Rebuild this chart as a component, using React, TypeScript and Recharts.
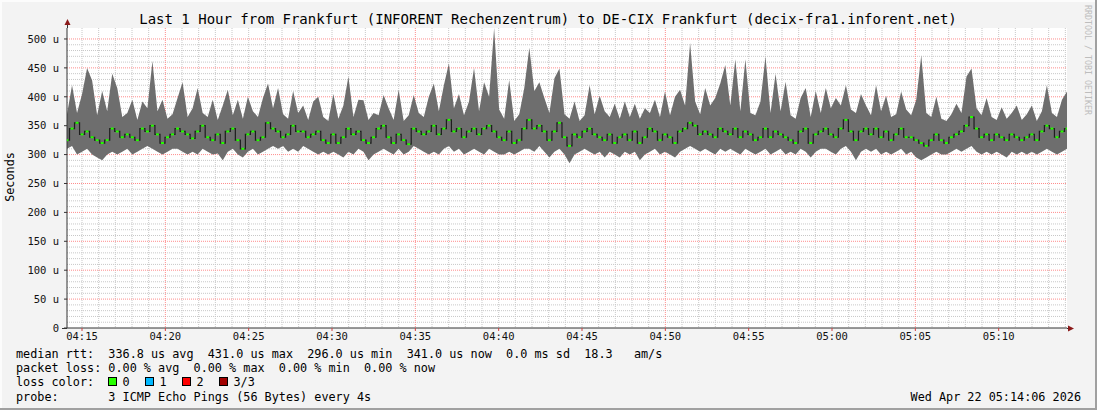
import React from 'react';
import { ComposedChart, Area, Line, Scatter, XAxis, YAxis, CartesianGrid } from 'recharts';

// smoke envelope per sample (microseconds), 200 samples over the last hour
const hiValues = [
  370, 420, 372, 405, 450, 428, 368, 410, 375, 440, 415, 365, 372, 395, 360, 392, 380, 462, 375, 395, 362, 370, 398, 425, 365,
  380, 415, 372, 365, 395, 360, 385, 412, 368, 395, 362, 400, 375, 365, 398, 423, 380, 415, 370, 362, 410, 372, 385, 360, 392, 400, 365, 358, 405,
  362, 385, 435, 365, 395, 394, 360, 372, 368, 403, 380, 360, 412, 358, 368, 403, 372, 365, 400, 423, 375, 420, 458, 380, 405, 368, 392, 450,
  375, 425, 400, 519, 378, 362, 429, 358, 370, 415, 485, 410, 425, 398, 372, 432, 449, 370, 362, 392, 358, 368, 420, 370, 402, 375, 365, 388, 362,
  392, 365, 388, 362, 380, 372, 395, 365, 409, 368, 400, 412, 385, 493, 392, 370, 415, 385, 398, 423, 455, 385, 465, 375, 465, 372, 368, 392, 470,
  372, 440, 375, 426, 368, 362, 398, 415, 365, 410, 372, 415, 380, 398, 385, 420, 378, 372, 405, 385, 368, 420, 375, 402, 365, 370, 409, 378,
  368, 395, 472, 372, 365, 400, 362, 358, 370, 388, 372, 435, 449, 380, 368, 398, 365, 360, 382, 362, 372, 385, 360, 370, 385, 358, 375, 420, 372, 365, 395, 409,
];

const loValues = [
  310, 315, 300, 305, 310, 300, 295, 290, 300, 305, 300, 305, 310, 300, 305, 310, 315, 310, 305, 300, 305, 310, 310, 305, 300,
  305, 300, 310, 305, 300, 302, 290, 305, 310, 300, 295, 305, 310, 300, 305, 310, 315, 310, 315, 305, 310, 305, 315, 310, 305, 300, 305, 300, 305,
  300, 295, 305, 300, 310, 305, 290, 300, 305, 310, 305, 300, 310, 300, 305, 315, 310, 305, 300, 305, 300, 310, 315, 305, 310, 300, 305, 310,
  305, 300, 310, 305, 300, 300, 305, 300, 305, 310, 310, 305, 315, 305, 295, 305, 310, 300, 285, 300, 305, 310, 305, 300, 305, 295, 305, 300, 295,
  305, 300, 305, 290, 300, 305, 310, 300, 305, 300, 295, 305, 310, 315, 310, 305, 310, 305, 300, 310, 305, 310, 305, 300, 310, 305, 300, 305, 310,
  300, 305, 310, 300, 305, 300, 310, 305, 295, 305, 310, 310, 305, 300, 310, 315, 305, 290, 305, 310, 305, 310, 300, 305, 300, 305, 310, 300,
  305, 295, 290, 295, 300, 305, 300, 300, 305, 310, 305, 310, 315, 305, 300, 305, 300, 305, 300, 295, 305, 300, 305, 300, 305, 300, 305, 310, 305, 300, 305, 310,
];

const medValues = [
  325, 345, 355, 335, 340, 330, 325, 320, 325, 345, 340, 330, 335, 330, 325, 345, 340, 350, 335, 320, 330, 335, 345, 340, 335,
  328, 340, 350, 330, 325, 335, 320, 340, 345, 325, 310, 335, 340, 325, 330, 355, 345, 340, 330, 335, 350, 340, 340, 330, 335, 340, 325, 320, 335,
  320, 330, 345, 335, 340, 325, 320, 330, 345, 350, 330, 320, 335, 325, 318, 345, 340, 335, 340, 350, 335, 345, 360, 340, 345, 330, 340, 345,
  335, 345, 350, 340, 330, 325, 340, 320, 325, 345, 360, 345, 350, 340, 325, 340, 355, 330, 315, 335, 330, 340, 345, 335, 330, 325, 335, 320, 330,
  335, 325, 340, 320, 330, 345, 340, 325, 335, 330, 320, 340, 345, 355, 350, 335, 340, 335, 330, 345, 340, 335, 345, 330, 340, 335, 325, 330, 345,
  330, 340, 335, 330, 325, 320, 340, 345, 320, 335, 340, 345, 335, 330, 345, 360, 340, 325, 340, 345, 335, 345, 330, 340, 325, 335, 345, 330,
  330, 325, 320, 315, 325, 335, 325, 320, 330, 335, 340, 350, 365, 345, 330, 335, 325, 335, 330, 325, 335, 330, 325, 330, 335, 325, 340, 350, 345, 330, 340, 345,
];

// seconds since 04:14:06
const SPAN = 3600;
const timeTicks = [54, 354, 654, 954, 1254, 1554, 1854, 2154, 2454, 2754, 3054, 3354];
const timeLabels = ['04:15', '04:20', '04:25', '04:30', '04:35', '04:40', '04:45', '04:50', '04:55', '05:00', '05:05', '05:10'];
const majorTimes = [354, 1254, 2154, 3054];
const minuteTimes = Array.from({ length: 60 }, (_, k) => 54 + 60 * k).filter(t => !majorTimes.includes(t));
const valueTicks = [0, 50, 100, 150, 200, 250, 300, 350, 400, 450, 500];
const minorValues = Array.from({ length: 51 }, (_, k) => k * 10).filter(v => v % 50 !== 0);

const data = hiValues.map((hi, i) => ({
  t: (i * SPAN) / (hiValues.length - 1),
  range: [loValues[i], hi],
  med: medValues[i],
}));

const MONO = "'DejaVu Sans Mono', monospace";

const MedianTick = (props: any) => {
  const { cx, cy } = props;
  if (cx == null || cy == null) return null;
  return <rect x={cx - 1.5} y={cy - 1} width={3} height={2} fill="#26ff00" />;
};

const lossColors = [
  { x: 108, label: '0', color: '#26ff00' },
  { x: 145, label: '1', color: '#00b8ff' },
  { x: 182, label: '2', color: '#ff0000' },
  { x: 219, label: '3/3', color: '#a10000' },
];

const App: React.FC = () => {
  return (
    <div style={{ position: 'relative', width: 1097, height: 410, background: '#f3f3f3', fontFamily: MONO }}>
      <style>{'body{margin:0}'}</style>
      <div style={{ position: 'absolute', left: 0, top: 0 }}>
        <ComposedChart width={1097} height={410} data={data} margin={{ top: 28, right: 30, left: 7, bottom: 62 }}>
          <CartesianGrid
            fill="#ffffff"
            stroke="#c8c8c8"
            strokeDasharray="1 1"
            horizontalValues={minorValues}
            verticalValues={minuteTimes}
          />
          <CartesianGrid
            fill="none"
            stroke="#ff8c8c"
            strokeDasharray="1 1"
            horizontalValues={valueTicks.filter(v => v > 0)}
            verticalValues={majorTimes}
          />
          <XAxis
            dataKey="t"
            type="number"
            domain={[0, SPAN]}
            ticks={timeTicks}
            interval={0}
            height={20}
            tickFormatter={(v) => timeLabels[timeTicks.indexOf(v)] ?? ''}
            tick={{ fontSize: 10.5, fontFamily: MONO, fill: '#111' }}
            tickSize={3}
            tickMargin={2}
            tickLine={{ stroke: '#d04040' }}
            axisLine={{ stroke: '#333' }}
            allowDataOverflow
          />
          <YAxis
            type="number"
            domain={[0, 519]}
            ticks={valueTicks}
            interval={0}
            width={60}
            tickFormatter={(v) => (v === 0 ? '0' : `${v} u`)}
            tick={{ fontSize: 10.5, fontFamily: MONO, fill: '#111' }}
            tickSize={3}
            tickMargin={5}
            tickLine={{ stroke: '#333' }}
            axisLine={{ stroke: '#333' }}
            allowDataOverflow
          />
          <Area
            dataKey="range"
            type="linear"
            fill="#6e6e6e"
            fillOpacity={1}
            stroke="none"
            isAnimationActive={false}
          />
          <Line
            dataKey="med"
            type="step"
            stroke="#1e1e1e"
            strokeWidth={1.2}
            dot={false}
            isAnimationActive={false}
          />
          <Scatter dataKey="med" shape={MedianTick} isAnimationActive={false} />
        </ComposedChart>
      </div>

      <svg
        width={1097}
        height={410}
        style={{ position: 'absolute', left: 0, top: 0, pointerEvents: 'none' }}
        fontFamily={MONO}
      >
        {/* frame */}
        <line x1={0} y1={1} x2={1097} y2={1} stroke="#fcfcfc" strokeWidth={2} />
        <line x1={1} y1={0} x2={1} y2={410} stroke="#fcfcfc" strokeWidth={2} />
        <line x1={0} y1={409} x2={1097} y2={409} stroke="#a0a0a0" strokeWidth={2} />
        <line x1={1096} y1={0} x2={1096} y2={410} stroke="#a0a0a0" strokeWidth={2} />

        {/* axis arrows */}
        <line x1={67.5} y1={22} x2={67.5} y2={28} stroke="#333" />
        <polygon points="64.5,25 70.5,25 67.5,19" fill="#8b1a1a" />
        <line x1={62} y1={328.5} x2={67} y2={328.5} stroke="#333" />
        <line x1={1067} y1={328.5} x2={1070} y2={328.5} stroke="#333" />
        <polygon points="1068,325.5 1068,331.5 1074,328.5" fill="#8b1a1a" />

        <text x={548} y={24} fontSize={14} textAnchor="middle" fill="#000">
          Last 1 Hour from Frankfurt (INFORENT Rechenzentrum) to DE-CIX Frankfurt (decix-fra1.inforent.net)
        </text>
        <text x={14} y={177} fontSize={11.8} textAnchor="middle" fill="#000" transform="rotate(-90 14 177)">
          Seconds
        </text>
        <text x={1085} y={5} fontSize={8.3} fill="#bdbdbd" transform="rotate(90 1085 5)">
          RRDTOOL / TOBI OETIKER
        </text>

        <g fontSize={11.8} fill="#000">
          <text x={16} y={358} xmlSpace="preserve" style={{ whiteSpace: 'pre' }}>
            {'median rtt:  336.8 us avg  431.0 us max  296.0 us min  341.0 us now  0.0 ms sd  18.3   am/s'}
          </text>
          <text x={16} y={372} xmlSpace="preserve" style={{ whiteSpace: 'pre' }}>
            {'packet loss: 0.00 % avg  0.00 % max  0.00 % min  0.00 % now'}
          </text>
          <text x={16} y={386}>loss color:</text>
          {lossColors.map(c => (
            <g key={c.label}>
              <rect x={c.x + 0.5} y={377.5} width={8} height={8} fill={c.color} stroke="#000" />
              <text x={c.x + 14.5} y={386}>{c.label}</text>
            </g>
          ))}
          <text x={16} y={401} xmlSpace="preserve" style={{ whiteSpace: 'pre' }}>
            {'probe:       3 ICMP Echo Pings (56 Bytes) every 4s'}
          </text>
          <text x={1081} y={401} textAnchor="end">Wed Apr 22 05:14:06 2026</text>
        </g>
      </svg>
    </div>
  );
};

export default App;
